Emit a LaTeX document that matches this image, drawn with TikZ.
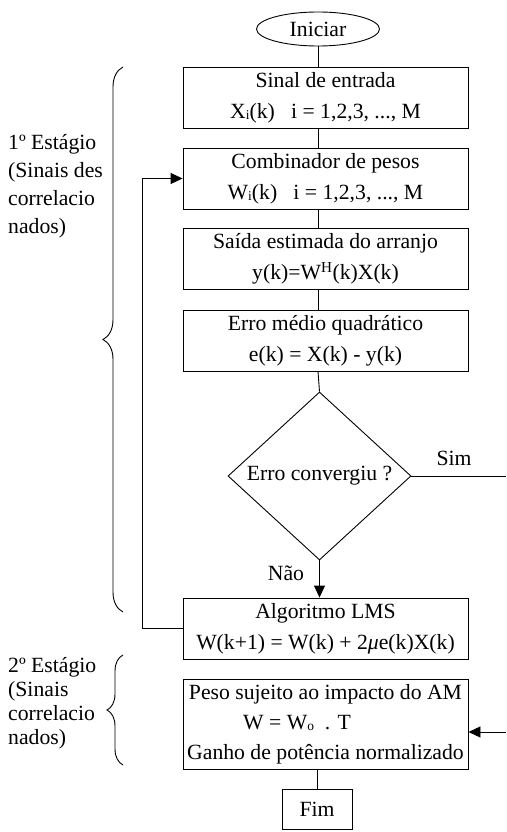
\documentclass[tikz,border=0pt]{standalone}
\usepackage{fontspec}
\setmainfont{Liberation Serif}
\usetikzlibrary{shapes.geometric, arrows.meta, decorations.pathreplacing, positioning}

\newcommand{\pequeno}[1]{\raisebox{-1pt}{\fontsize{13.5}{13.5}\selectfont #1}}

\begin{document}
\begin{tikzpicture}[x=1pt, y=-1pt,
    every node/.style={font=\fontsize{21.7}{31}\selectfont},
    caixa/.style={draw, line width=0.9pt, minimum width=285pt, minimum height=61pt, align=center, inner sep=2pt},
    decisao/.style={draw, diamond, line width=0.9pt, minimum width=183pt, minimum height=168pt, inner sep=0pt},
    seta/.style={line width=0.9pt, -{Triangle[length=12pt, width=11pt]}},
    chave/.style={decorate, decoration={brace, amplitude=#1}, line width=0.9pt}]
    \useasboundingbox (0,0) rectangle (506,832);

    % vertical axis of the connectors
    \coordinate (eixo) at (318,0);

    % blocks
    \node[draw, ellipse, line width=0.9pt, minimum width=123pt, minimum height=34pt, inner sep=0pt] (inicio) at (318,29) {Iniciar};
    \node[caixa] (entrada) at (325.5,97.5) {Sinal de entrada\\X\pequeno{i}(k)~~~i = 1,2,3, ..., M};
    \node[caixa] (pesos) at (325.5,178.5) {Combinador de pesos\\W\pequeno{i}(k)~~~i = 1,2,3, ..., M};
    \node[caixa] (saida) at (325.5,259) {Saída estimada do arranjo\\y(k)=W\textsuperscript{H}(k)X(k)};
    \node[caixa] (erro) at (325.5,340.5) {Erro médio quadrático\\e(k) = X(k) - y(k)};
    \node[decisao] (teste) at (319.5,476) {Erro convergiu ?};
    \node[caixa] (lms) at (325.5,628.5) {Algoritmo LMS\\W(k+1) = W(k) + 2\textit{μ}e(k)X(k)};
    \node[caixa, minimum height=90pt, font=\fontsize{21.7}{30}\selectfont] (impacto) at (325.5,724)
        {Peso sujeito ao impacto do AM\\W = W\pequeno{o}~~. T\hspace{57pt}\mbox{}\\Ganho de potência normalizado};
    \node[draw, line width=0.9pt, minimum width=70pt, minimum height=40pt] (fim) at (317,809) {Fim};

    % labels of the decision
    \node (sim) at (454,458) {Sim};
    \node (nao) at (286,573) {Não};

    % connectors
    \draw[line width=0.9pt] (inicio.south) -- (inicio.south |- entrada.north);
    \draw[line width=0.9pt] (entrada.south -| eixo) -- (pesos.north -| eixo);
    \draw[line width=0.9pt] (pesos.south -| eixo) -- (saida.north -| eixo);
    \draw[line width=0.9pt] (saida.south -| eixo) -- (erro.north -| eixo);
    \draw[line width=0.9pt] (erro.south -| eixo) -- (teste.north);
    \draw[seta] (teste.south) -- (teste.south |- lms.north);
    \draw[line width=0.9pt] (impacto.south -| fim) -- (fim.north);

    % way out on "Sim"
    \coordinate (fora) at (506,476);
    \draw[line width=0.9pt] (teste.east) -- (fora);

    % feedback to the weights
    \draw[seta] (lms.west) -- ++(-40,0) |- (pesos.west);

    % arrow coming in from the right
    \coordinate (volta) at (506,732);
    \draw[seta] (volta) -- (volta -| impacto.east);

    % stages (base anchor sits on the last line)
    \draw[chave=20] (123,612) -- (123,67);
    \node[anchor=base west, align=left, inner sep=0pt, font=\fontsize{21.7}{28}\selectfont] (estagio1) at (8,233)
        {1º Estágio\\(Sinais des\\correlacio\\nados)};
    \draw[chave=16] (123,765) -- (123,655);
    \node[anchor=base west, align=left, inner sep=0pt, font=\fontsize{21.7}{24}\selectfont] (estagio2) at (8,744)
        {2º Estágio\\(Sinais\\correlacio\\nados)};
\end{tikzpicture}
\end{document}
